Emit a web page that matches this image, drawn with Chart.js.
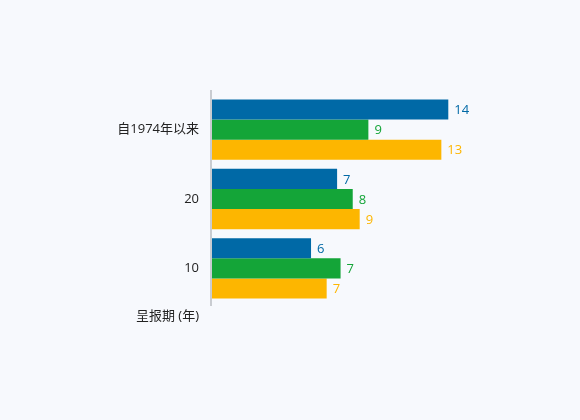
<!DOCTYPE html>
<html>
<head>
<meta charset="utf-8">
<script src="https://cdn.jsdelivr.net/npm/chart.js@4"></script>
<style>
  html, body { margin: 0; padding: 0; background: #f7f9fd; }
  #wrap { width: 580px; height: 420px; }
</style>
</head>
<body>
<div id="wrap"><canvas id="periodChart" width="580" height="420"></canvas></div>
<script>
// reporting periods (years)
const periods = ['自1974年以来', '20', '10'];
const seriesBlue = [13.6, 7.2, 5.7];
const seriesGreen = [9.0, 8.1, 7.4];
const seriesYellow = [13.2, 8.5, 6.6];
const axisCaption = '呈报期 (年)';

const colors = ['#0069a6', '#14a538', '#fdb600'];
const fontFamily = '"Open Sans", "Noto Sans CJK SC", sans-serif';

// value labels at bar ends
const valueLabels = {
  id: 'valueLabels',
  afterDatasetsDraw(chart) {
    const ctx = chart.ctx;
    ctx.save();
    ctx.font = '13px ' + fontFamily;
    ctx.textBaseline = 'middle';
    ctx.textAlign = 'left';
    chart.data.datasets.forEach((ds, i) => {
      chart.getDatasetMeta(i).data.forEach((bar, j) => {
        ctx.fillStyle = colors[i];
        ctx.fillText(Math.round(ds.data[j]), bar.x + 6, bar.y + 1);
      });
    });
    ctx.restore();
  }
};

// caption under the category labels + slightly longer axis line
const caption = {
  id: 'caption',
  afterDraw(chart) {
    const ctx = chart.ctx;
    const area = chart.chartArea;
    ctx.save();
    ctx.strokeStyle = '#c9ccd1';
    ctx.lineWidth = 2;
    ctx.beginPath();
    ctx.moveTo(area.left - 1, area.top - 5);
    ctx.lineTo(area.left - 1, area.bottom + 3);
    ctx.stroke();
    ctx.font = '13px ' + fontFamily;
    ctx.fillStyle = '#222';
    ctx.textAlign = 'right';
    ctx.textBaseline = 'middle';
    ctx.fillText(axisCaption, 199, 316);
    ctx.restore();
  }
};

const mkSet = (data, c) => ({
  data: data,
  backgroundColor: c,
  borderWidth: 0,
  barPercentage: 1,
  categoryPercentage: 0.87
});

new Chart(document.getElementById('periodChart'), {
  type: 'bar',
  data: {
    labels: periods,
    datasets: [
      mkSet(seriesBlue, colors[0]),
      mkSet(seriesGreen, colors[1]),
      mkSet(seriesYellow, colors[2])
    ]
  },
  options: {
    indexAxis: 'y',
    responsive: false,
    animation: false,
    layout: { padding: { top: 95, bottom: 117, left: 0, right: 90 } },
    plugins: {
      legend: { display: false },
      tooltip: { enabled: false }
    },
    scales: {
      x: { display: false, min: 0, max: 16 },
      y: {
        grid: { display: false, drawTicks: false },
        border: { display: false },
        ticks: {
          padding: 13,
          color: '#222',
          font: { size: 13, family: fontFamily }
        },
        afterFit(scale) { scale.width = 212; }
      }
    }
  },
  plugins: [valueLabels, caption]
});
</script>
</body>
</html>
